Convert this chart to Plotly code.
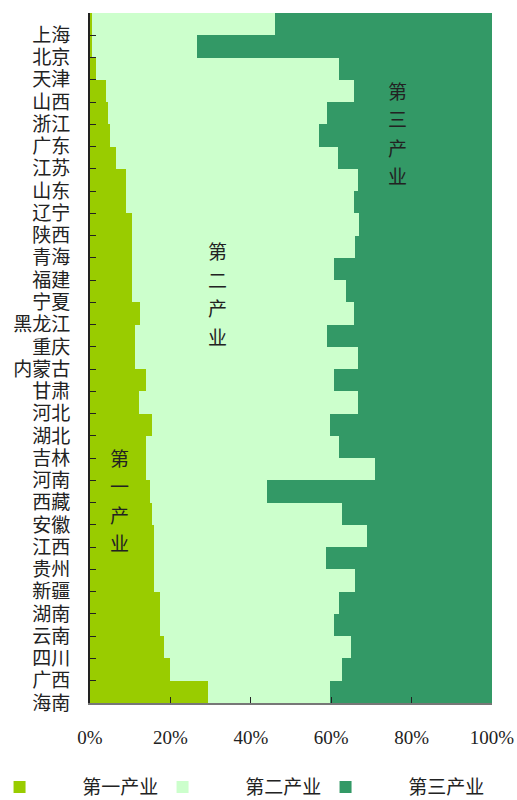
import plotly.graph_objects as go

provinces = ["上海","北京","天津","山西","浙江","广东","江苏","山东","辽宁","陕西",
             "青海","福建","宁夏","黑龙江","重庆","内蒙古","甘肃","河北","湖北","吉林",
             "河南","西藏","安徽","江西","贵州","新疆","湖南","云南","四川","广西","海南"]

primary = [0.6, 0.6, 1.5, 4.0, 4.5, 5.0, 6.5, 9.0, 9.0, 10.5,
           10.5, 10.5, 10.5, 12.5, 11.1, 11.1, 14.0, 12.1, 15.5, 14.0,
           14.0, 15.0, 15.5, 16.0, 16.0, 16.0, 17.5, 17.5, 18.5, 20.0, 29.4]
secondary = [45.4, 25.9, 60.4, 61.6, 54.4, 51.9, 55.1, 57.6, 56.6, 56.4,
             55.4, 50.1, 53.1, 53.1, 47.8, 55.5, 46.6, 54.5, 44.2, 47.9,
             56.9, 29.0, 47.1, 52.9, 42.6, 49.9, 44.4, 43.1, 46.4, 42.6, 30.3]
tertiary = [54.0, 73.5, 38.1, 34.4, 41.1, 43.1, 38.4, 33.4, 34.4, 33.1,
            34.1, 39.4, 36.4, 34.4, 41.1, 33.4, 39.4, 33.4, 40.3, 38.1,
            29.1, 56.0, 37.4, 31.1, 41.4, 34.1, 38.1, 39.4, 35.1, 37.4, 40.3]

series_names = ["第一产业", "第二产业", "第三产业"]
colors = ["#99CC00", "#CCFFCC", "#339966"]
x_ticks = [0, 20, 40, 60, 80, 100]
x_ticktext = ["0%", "20%", "40%", "60%", "80%", "100%"]

FONT = "Liberation Serif, Noto Sans CJK SC, serif"
pos = list(range(len(provinces)))

fig = go.Figure()
for name, vals, col in zip(series_names, [primary, secondary, tertiary], colors):
    fig.add_trace(go.Bar(
        y=pos, x=vals, orientation="h", name="\u2003\u2003\u00a0" + name,
        marker=dict(color=col, line=dict(width=0)), width=1.0,
    ))

# in-chart vertical labels (one char per annotation)
labels = [("第一产业", 7.3, 19.54), ("第二产业", 31.8, 10.28), ("第三产业", 76.6, 3.05)]
for text, xv, y0 in labels:
    for k, ch in enumerate(text):
        fig.add_annotation(x=xv, y=y0 + k * 1.28, xref="x", yref="y", text=ch,
                           showarrow=False, font=dict(family=FONT, size=19, color="#222"))

tickvals = [p - 0.5 for p in pos] + [pos[-1] + 0.5]
ticktext = [""] + provinces

fig.update_layout(
    width=517, height=800,
    margin=dict(l=90, r=25, t=13, b=97, autoexpand=False),
    barmode="stack", bargap=0,
    plot_bgcolor="white", paper_bgcolor="white",
    font=dict(family=FONT, size=19, color="#222"),
    showlegend=True,
    legend=dict(orientation="h", x=-0.225, xanchor="left", y=-0.122, yanchor="middle",
                entrywidth=118, entrywidthmode="pixels", font=dict(size=19),
                tracegroupgap=0, itemwidth=30, borderwidth=0,
                traceorder="normal", bgcolor="rgba(0,0,0,0)"),
    xaxis=dict(range=[0, 100], tickvals=x_ticks, ticktext=x_ticktext, ticks="inside",
               ticklen=6, tickcolor="#222", showgrid=False, zeroline=False,
               showline=True, linecolor="#777", linewidth=2, ticklabelstandoff=16,
               tickfont=dict(size=19)),
    yaxis=dict(range=[pos[-1] + 0.5, -0.5], tickvals=tickvals, ticktext=ticktext,
               ticks="inside", ticklen=6, tickcolor="#222", showgrid=False,
               zeroline=False, showline=True, linecolor="#222", linewidth=2,
               ticklabelstandoff=14, tickfont=dict(size=19)),
)

fig.write_html("out.html")
